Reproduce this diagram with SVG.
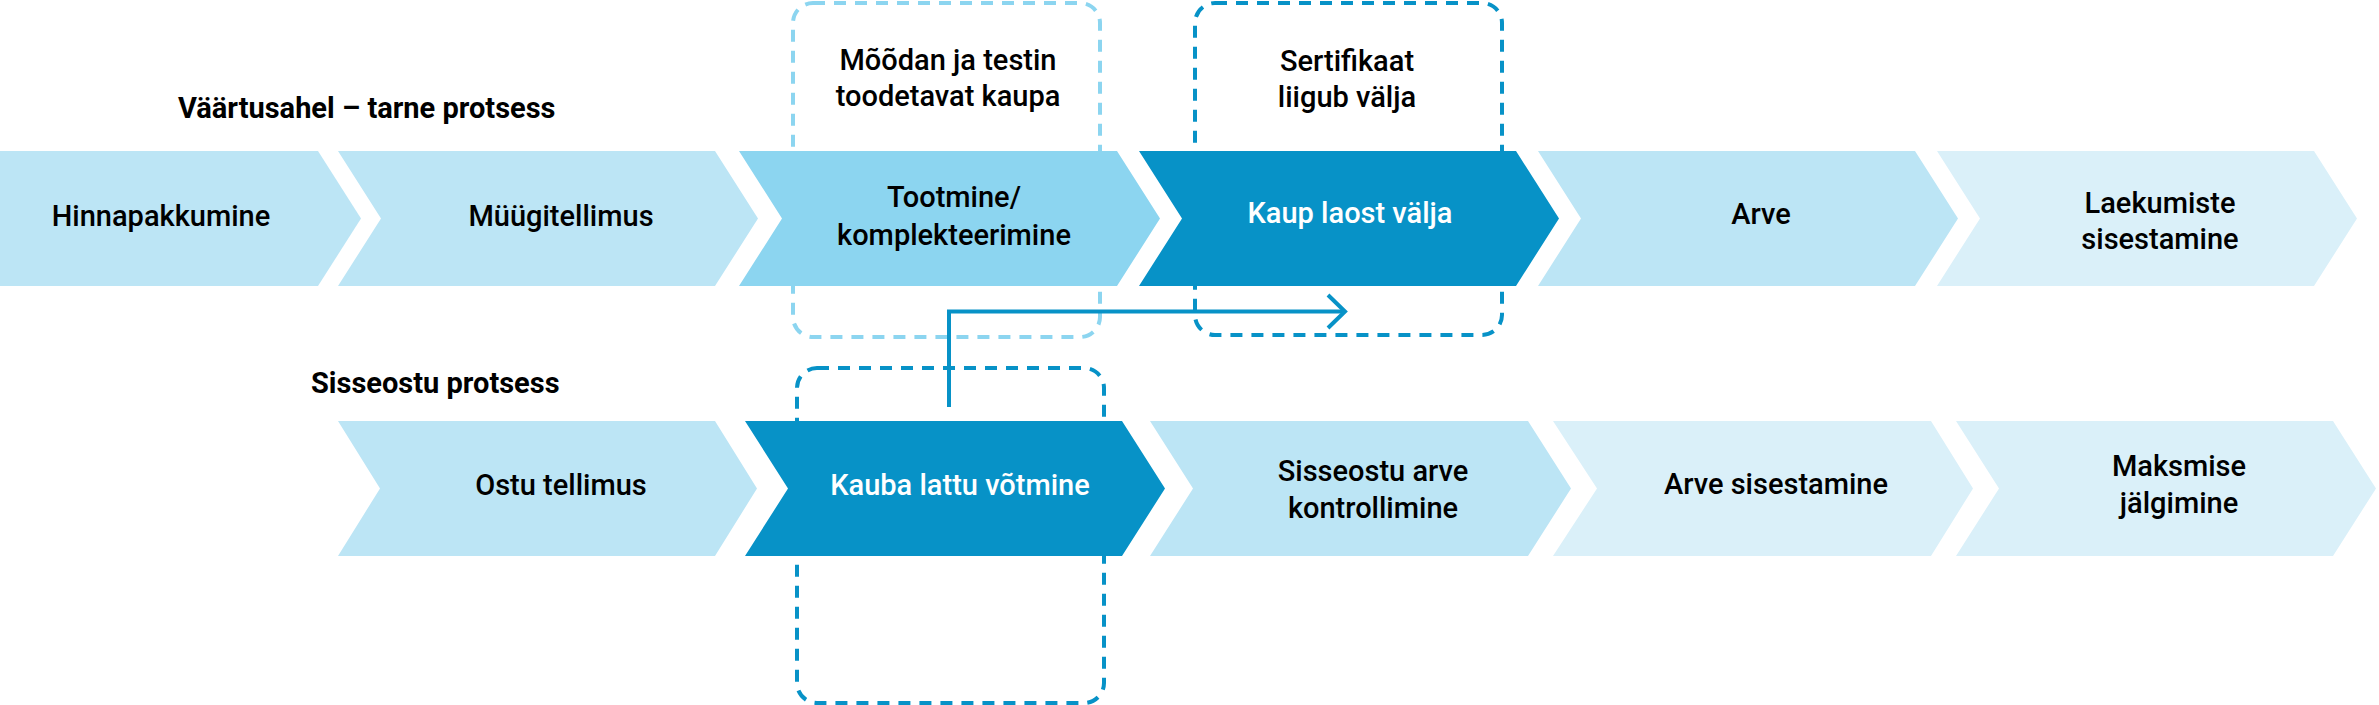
<svg xmlns="http://www.w3.org/2000/svg" width="2379" height="705" viewBox="0 0 2379 705">
<defs>
<style>
.t{font-family:Roboto,"Liberation Sans",sans-serif;font-size:29px;font-weight:500;fill:#000;text-anchor:middle}
.w{fill:#fff}
.h{font-family:Roboto,"Liberation Sans",sans-serif;font-size:29px;font-weight:700;fill:#000}
.c1{fill:#bce5f5}
.c2{fill:#8cd5f0}
.c3{fill:#0792c7}
.c4{fill:#daf0f9}
.dl{fill:none;stroke:#8cd5f0;stroke-width:4;stroke-dasharray:12 9}
.dd{fill:none;stroke:#0792c7;stroke-width:4;stroke-dasharray:12 9}
.ln{fill:none;stroke:#0792c7;stroke-width:4}
</style>
</defs>
<rect width="2379" height="705" fill="#fff"/>
<g id="groups">
<rect id="box-measure" class="dl" x="793" y="3" width="307" height="334" rx="20"/>
<rect id="box-cert" class="dd" x="1195" y="3" width="307" height="332" rx="20"/>
<rect id="box-receive" class="dd" x="797" y="368" width="307" height="335" rx="20"/>
</g>
<text class="h" x="178" y="118">Väärtusahel – tarne protsess</text>
<text class="h" x="311" y="393">Sisseostu protsess</text>
<g id="n1"><polygon class="c1" points="0,151 318,151 361,218.5 318,286 0,286"/><text class="t" x="161" y="226">Hinnapakkumine</text></g>
<g id="n2"><polygon class="c1" points="338,151 715,151 758,218.5 715,286 338,286 381,218.5"/><text class="t" x="561" y="226">Müügitellimus</text></g>
<g id="n3"><polygon class="c2" points="739,151 1117,151 1160,218.5 1117,286 739,286 782,218.5"/><text class="t" x="954" y="207">Tootmine/</text><text class="t" x="954" y="245">komplekteerimine</text></g>
<g id="n4"><polygon class="c3" points="1139,151 1516,151 1559,218.5 1516,286 1139,286 1182,218.5"/><text class="t w" x="1350" y="223">Kaup laost välja</text></g>
<g id="n5"><polygon class="c1" points="1538,151 1915,151 1958,218.5 1915,286 1538,286 1581,218.5"/><text class="t" x="1761" y="224">Arve</text></g>
<g id="n6"><polygon class="c4" points="1937,151 2314,151 2357,218.5 2314,286 1937,286 1980,218.5"/><text class="t" x="2160" y="213">Laekumiste</text><text class="t" x="2160" y="249">sisestamine</text></g>
<g id="n7"><polygon class="c1" points="338,421 715,421 757,488.5 715,556 338,556 380,488.5"/><text class="t" x="561" y="495">Ostu tellimus</text></g>
<g id="n8"><polygon class="c3" points="745,421 1122,421 1165,488.5 1122,556 745,556 788,488.5"/><text class="t w" x="960" y="495">Kauba lattu võtmine</text></g>
<g id="n9"><polygon class="c1" points="1150,421 1528,421 1571,488.5 1528,556 1150,556 1193,488.5"/><text class="t" x="1373" y="481">Sisseostu arve</text><text class="t" x="1373" y="518">kontrollimine</text></g>
<g id="n10"><polygon class="c4" points="1553,421 1931,421 1973,488.5 1931,556 1553,556 1597,488.5"/><text class="t" x="1776" y="494">Arve sisestamine</text></g>
<g id="n11"><polygon class="c4" points="1956,421 2333,421 2376,488.5 2333,556 1956,556 1999,488.5"/><text class="t" x="2179" y="476">Maksmise</text><text class="t" x="2179" y="513">jälgimine</text></g>
<g id="n-measure-label"><text class="t" x="948" y="70">Mõõdan ja testin</text><text class="t" x="948" y="106">toodetavat kaupa</text></g>
<g id="n-cert-label"><text class="t" x="1347" y="71">Sertifikaat</text><text class="t" x="1347" y="107">liigub välja</text></g>
<g id="connectors">
<polyline class="ln" points="949,407 949,311.5 1344,311.5"/>
<polyline class="ln" points="1328,295 1345,311.5 1328,328"/>
</g>
</svg>
